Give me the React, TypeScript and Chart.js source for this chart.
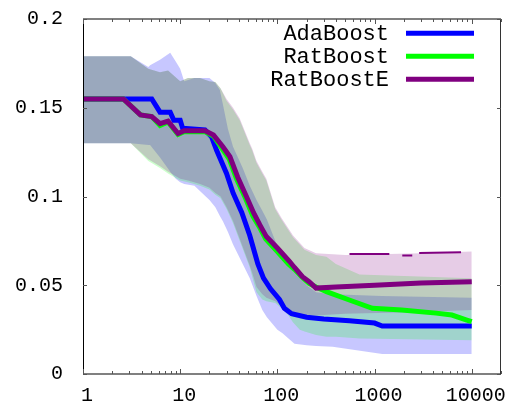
import React, { useEffect, useRef } from 'react';
import { Chart, registerables } from 'chart.js';

Chart.register(...registerables);

// ---- axis ticks ----
const xTickValues = [1, 10, 100, 1000, 10000];
const xTickLabels = ['1', '10', '100', '1000', '10000'];
const yTickValues = [0, 0.05, 0.1, 0.15, 0.2];
const yTickLabels = ['0', '0.05', '0.1', '0.15', '0.2'];

// ---- series names ----
const seriesNames = ['AdaBoost', 'RatBoost', 'RatBoostE'];

// ---- AdaBoost ----
const adaX = [1, 5.1, 6.2, 7.9, 8.6, 10, 10.6, 18, 21, 23.7, 25.5, 30, 35, 43, 52, 63, 72, 85, 105, 118, 140, 200, 300, 550, 1000, 1200, 10000];
const adaMean = [0.155, 0.155, 0.1475, 0.1475, 0.143, 0.143, 0.1385, 0.1375, 0.1337, 0.126, 0.122, 0.113, 0.102, 0.091, 0.078, 0.062, 0.054, 0.048, 0.042, 0.037, 0.034, 0.032, 0.031, 0.030, 0.0287, 0.027, 0.027];
const adaBandX = [1, 3.1, 4.7, 4.9, 6.2, 7.9, 9, 10, 11, 14, 20, 23, 25.6, 27.5, 31, 35, 44, 52, 61, 70, 78, 100, 113, 130, 150, 200, 250, 370, 1200, 10000];
const adaHigh = [0.179, 0.179, 0.173, 0.174, 0.177, 0.181, 0.176, 0.172, 0.165, 0.1667, 0.1667, 0.164, 0.160, 0.152, 0.138, 0.128, 0.116, 0.106, 0.098, 0.092, 0.087, 0.072, 0.067, 0.063, 0.058, 0.050, 0.046, 0.045, 0.044, 0.043];
const adaLow = [0.130, 0.130, 0.129, 0.129, 0.122, 0.114, 0.110, 0.108, 0.107, 0.106, 0.098, 0.094, 0.089, 0.086, 0.080, 0.073, 0.062, 0.054, 0.044, 0.036, 0.032, 0.025, 0.023, 0.020, 0.017, 0.0162, 0.0158, 0.0154, 0.0113, 0.0113];

// ---- RatBoost ----
const ratX = [1, 2.6, 3.9, 5.1, 6.2, 7.5, 9.5, 11, 18, 22, 27, 32, 38, 47, 56, 65, 76, 100, 130, 150, 180, 212, 250, 320, 550, 950, 1900, 4300, 6250, 8900, 10000];
const ratMean = [0.155, 0.155, 0.146, 0.145, 0.140, 0.142, 0.135, 0.1365, 0.1365, 0.134, 0.127, 0.121, 0.110, 0.099, 0.089, 0.083, 0.076, 0.069, 0.062, 0.059, 0.0545, 0.051, 0.049, 0.0464, 0.0417, 0.037, 0.036, 0.0343, 0.0332, 0.0304, 0.0295];
const ratBandX = [1, 3.1, 4.7, 6.2, 7.5, 10, 12, 16, 20, 23, 26, 30, 35, 41, 52, 55, 61, 70, 77, 95, 110, 130, 145, 170, 190, 250, 320, 400, 700, 10000];
const ratHigh = [0.179, 0.179, 0.172, 0.170, 0.171, 0.165, 0.1667, 0.1667, 0.165, 0.1645, 0.161, 0.154, 0.149, 0.143, 0.129, 0.126, 0.119, 0.113, 0.109, 0.093, 0.087, 0.081, 0.077, 0.073, 0.070, 0.067, 0.066, 0.062, 0.056, 0.054];
const ratLow = [0.130, 0.130, 0.120, 0.116, 0.113, 0.109, 0.108, 0.106, 0.104, 0.101, 0.099, 0.093, 0.085, 0.075, 0.060, 0.055, 0.046, 0.042, 0.041, 0.040, 0.037, 0.033, 0.029, 0.025, 0.024, 0.022, 0.021, 0.021, 0.020, 0.019];

// ---- RatBoostE ----
const ratEX = [1, 2.6, 3.9, 5.1, 6.2, 7.5, 9.5, 11, 18, 22, 27.5, 32.5, 39, 48, 57, 66, 77, 100, 133, 150, 181, 212, 250, 400, 1000, 3000, 10000];
const ratEMean = [0.155, 0.155, 0.146, 0.145, 0.141, 0.1425, 0.1355, 0.137, 0.137, 0.1346, 0.128, 0.1224, 0.111, 0.100, 0.0907, 0.084, 0.0774, 0.071, 0.0635, 0.060, 0.0548, 0.052, 0.0484, 0.049, 0.050, 0.0513, 0.052];
const ratEBandX = [1, 3.1, 4.7, 6.2, 7.5, 10, 12, 16, 20, 23, 26, 30, 35, 41, 52, 55, 61, 70, 77, 95, 110, 145, 190, 250, 500, 3000, 10000];
const ratEHigh = [0.179, 0.179, 0.172, 0.170, 0.171, 0.165, 0.1667, 0.1667, 0.165, 0.1645, 0.161, 0.155, 0.150, 0.144, 0.130, 0.127, 0.120, 0.114, 0.110, 0.094, 0.088, 0.078, 0.071, 0.068, 0.067, 0.068, 0.069];
const ratELow = [0.130, 0.130, 0.121, 0.117, 0.114, 0.110, 0.109, 0.107, 0.105, 0.102, 0.100, 0.094, 0.086, 0.076, 0.061, 0.057, 0.049, 0.045, 0.043, 0.041, 0.038, 0.034, 0.033, 0.033, 0.034, 0.035, 0.036];
// broken dark edge along the top of the RatBoostE band
const ratEEdgeX = [552, 1419, 1420, 1928, 2443, 2444, 2877, 7762];
const ratEEdgeY = [0.0676, 0.0676, null, 0.0668, 0.0668, null, 0.0681, 0.0686];

// ---- styles ----
const lineColors = ['#0000ff', '#00ff00', '#800080'];
const bandColors = ['rgba(0,0,255,0.22)', 'rgba(0,255,0,0.2)', 'rgba(128,0,128,0.2)'];
const TICK_FONT = '"Liberation Mono", "DejaVu Sans Mono", monospace';
const AREA = { left: 83, top: 19, right: 501, bottom: 374 };

const pts = (xs: number[], ys: (number | null)[]) => xs.map((x, i) => ({ x, y: ys[i] }));

const fixAreaPlugin = {
  id: 'fixArea',
  afterLayout(chart: any) {
    const { left, top, right, bottom } = AREA;
    const xs = chart.scales.x;
    const ys = chart.scales.y;
    xs.left = left; xs.right = right; xs.width = right - left;
    xs.top = bottom; xs.bottom = chart.height; xs.height = chart.height - bottom;
    ys.left = 0; ys.right = left; ys.width = left;
    ys.top = top; ys.bottom = bottom; ys.height = bottom - top;
    xs.configure();
    ys.configure();
    chart.chartArea = { left, top, right, bottom, width: right - left, height: bottom - top };
  },
};

const frameLegendPlugin = {
  id: 'frameLegend',
  afterDatasetsDraw(chart: any) {
    const { ctx, chartArea } = chart;
    const xs = chart.scales.x;
    const ys = chart.scales.y;
    const { left, right, top, bottom } = chartArea;
    ctx.save();
    // frame
    ctx.lineWidth = 2;
    ctx.strokeStyle = '#808080';
    ctx.beginPath();
    ctx.moveTo(left, top); ctx.lineTo(right, top);
    ctx.moveTo(left, bottom); ctx.lineTo(right, bottom);
    ctx.stroke();
    ctx.lineWidth = 1;
    ctx.strokeStyle = '#000';
    ctx.beginPath();
    ctx.moveTo(left + 0.5, top); ctx.lineTo(left + 0.5, bottom);
    ctx.stroke();
    ctx.strokeStyle = '#333';
    ctx.beginPath();
    ctx.moveTo(right - 0.5, top); ctx.lineTo(right - 0.5, bottom);
    ctx.stroke();
    // x ticks (inward, mirrored)
    ctx.strokeStyle = '#555';
    ctx.lineWidth = 1;
    ctx.beginPath();
    for (let d = 0; d <= 4; d++) {
      for (let m = 1; m <= 9; m++) {
        const v = m * Math.pow(10, d);
        if (v > xs.max) continue;
        const px = Math.round(xs.getPixelForValue(v)) + 0.5;
        const len = m === 1 ? 5 : 3;
        ctx.moveTo(px, bottom); ctx.lineTo(px, bottom - len);
        ctx.moveTo(px, top); ctx.lineTo(px, top + len);
      }
    }
    // y ticks
    yTickValues.forEach((v) => {
      const py = Math.round(ys.getPixelForValue(v)) + 0.5;
      ctx.moveTo(left, py); ctx.lineTo(left + 4, py);
      ctx.moveTo(right, py); ctx.lineTo(right - 4, py);
    });
    ctx.stroke();
    // legend
    ctx.font = '22px "Liberation Mono", monospace';
    ctx.textAlign = 'right';
    ctx.textBaseline = 'alphabetic';
    seriesNames.forEach((name, i) => {
      const y = top + 14.3 + i * 23;
      ctx.fillStyle = '#000';
      ctx.fillText(name, right - 112, y + 6.2);
      ctx.strokeStyle = lineColors[i];
      ctx.lineWidth = 5;
      ctx.beginPath();
      ctx.moveTo(right - 95, y);
      ctx.lineTo(right - 27, y);
      ctx.stroke();
    });
    ctx.restore();
  },
};

export default function App() {
  const ref = useRef<HTMLCanvasElement | null>(null);
  useEffect(() => {
    if (!ref.current) return;
    const bandBase = { pointRadius: 0, borderWidth: 0, borderColor: 'rgba(0,0,0,0)', tension: 0 };
    const meanBase = { pointRadius: 0, borderWidth: 5, tension: 0, fill: false };
    const chart = new Chart(ref.current, {
      type: 'line',
      data: {
        datasets: [
          { ...meanBase, label: seriesNames[2], data: pts(ratEX, ratEMean), borderColor: lineColors[2], order: 0 },
          { ...meanBase, label: seriesNames[1], data: pts(ratX, ratMean), borderColor: lineColors[1], order: 1 },
          { ...meanBase, label: seriesNames[0], data: pts(adaX, adaMean), borderColor: lineColors[0], order: 2 },
          { pointRadius: 0, borderWidth: 2, borderColor: lineColors[2], fill: false, spanGaps: false, data: pts(ratEEdgeX, ratEEdgeY), order: 3 },
          // bands (low then high filled to previous)
          { ...bandBase, data: pts(ratEBandX, ratELow), fill: false, order: 4 },
          { ...bandBase, data: pts(ratEBandX, ratEHigh), fill: '-1', backgroundColor: bandColors[2], order: 5 },
          { ...bandBase, data: pts(ratBandX, ratLow), fill: false, order: 6 },
          { ...bandBase, data: pts(ratBandX, ratHigh), fill: '-1', backgroundColor: bandColors[1], order: 7 },
          { ...bandBase, data: pts(adaBandX, adaLow), fill: false, order: 8 },
          { ...bandBase, data: pts(adaBandX, adaHigh), fill: '-1', backgroundColor: bandColors[0], order: 9 },
        ],
      },
      options: {
        animation: false,
        responsive: false,
        devicePixelRatio: 1,
        events: [],
        layout: { padding: { top: 19, right: 10, left: 0, bottom: 0 } },
        plugins: {
          legend: { display: false },
          tooltip: { enabled: false },
          filler: { propagate: false },
        },
        scales: {
          x: {
            type: 'logarithmic',
            min: 1,
            max: 20000,
            grid: { display: false, drawTicks: false },
            border: { display: false },
            afterBuildTicks: (s: any) => { s.ticks = xTickValues.map((v) => ({ value: v })); },
            ticks: {
              autoSkip: false,
              maxRotation: 0,
              padding: 10,
              labelOffset: 4,
              color: '#000',
              font: { family: TICK_FONT, size: 20 },
              callback: (v: any) => { const i = xTickValues.indexOf(Number(v)); return i >= 0 ? xTickLabels[i] : ''; },
            },
          },
          y: {
            min: 0,
            max: 0.2,
            grid: { display: false, drawTicks: false },
            border: { display: false },
            afterBuildTicks: (s: any) => { s.ticks = yTickValues.map((v) => ({ value: v })); },
            ticks: {
              autoSkip: false,
              padding: 20,
              color: '#000',
              font: { family: TICK_FONT, size: 20 },
              callback: (v: any) => { const i = yTickValues.findIndex((t) => Math.abs(t - Number(v)) < 1e-9); return i >= 0 ? yTickLabels[i] : ''; },
            },
          },
        },
      },
      plugins: [fixAreaPlugin, frameLegendPlugin],
    } as any);
    return () => chart.destroy();
  }, []);
  return (
    <div style={{ position: 'fixed', left: 0, top: 0, width: 511, height: 404, background: '#fff' }}>
      <canvas ref={ref} width={511} height={404} style={{ display: 'block' }} />
    </div>
  );
}
